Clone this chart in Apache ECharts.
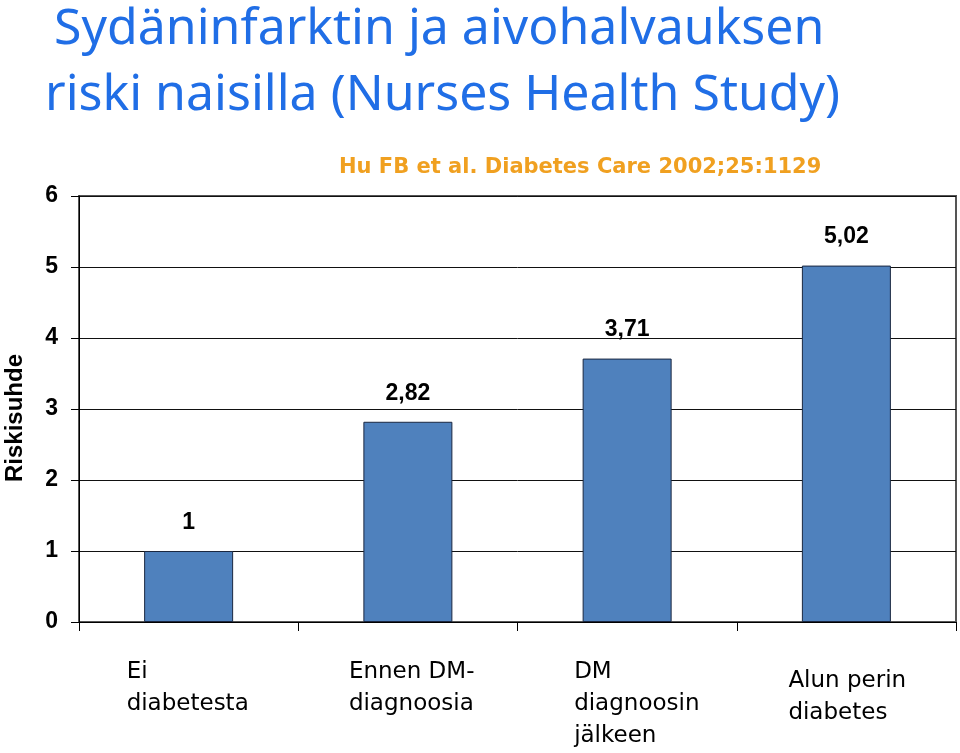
<!DOCTYPE html>
<html>
<head>
<meta charset="utf-8">
<script src="https://cdn.jsdelivr.net/npm/echarts@6/dist/echarts.min.js"></script>
<style>html,body{margin:0;padding:0;background:#fff}#c{width:960px;height:753px}</style>
</head>
<body>
<div id="c"></div>
<script>
const titleLine1 = 'Sydäninfarktin ja aivohalvauksen';
const titleLine2 = 'riski naisilla (Nurses Health Study)';
const sourceText = 'Hu FB et al. Diabetes Care 2002;25:1129';
const yAxisName = 'Riskisuhde';
const categories = ['Ei\ndiabetesta', 'Ennen DM-\ndiagnoosia', 'DM\ndiagnoosin\njälkeen', 'Alun perin\ndiabetes'];
const values = [1, 2.82, 3.71, 5.02];
const valueLabels = ['1', '2,82', '3,71', '5,02'];

const chart = echarts.init(document.getElementById('c'), null, {renderer: 'canvas'});
const catStyles = ['c0', 'c1', 'c2', 'c3'];
const richBase = {fontFamily: 'DejaVu Sans', fontSize: 23, color: '#000', lineHeight: 32, align: 'left'};
chart.setOption({
  animation: false,
  backgroundColor: '#fff',
  title: [
    {text: titleLine1, left: 49, top: 0, textStyle: {fontFamily: 'Noto Sans', fontSize: 50, fontWeight: 'normal', color: '#206ee6'}},
    {text: titleLine2, left: 40, top: 66, textStyle: {fontFamily: 'Noto Sans', fontSize: 50, fontWeight: 'normal', color: '#206ee6'}},
    {text: sourceText, left: 334, top: 152, textStyle: {fontFamily: 'DejaVu Sans', fontSize: 21, fontWeight: 'bold', color: '#f0a020'}}
  ],
  grid: {left: 79, right: 4, top: 196, bottom: 131, show: true, borderColor: '#555', borderWidth: 2, outerBoundsMode: 'none', containLabel: false},
  xAxis: {
    type: 'category',
    data: categories,
    axisLine: {lineStyle: {color: '#000', width: 1}},
    axisTick: {show: true, length: 9, lineStyle: {color: '#000'}},
    axisLabel: {
      margin: 34,
      interval: 0,
      formatter: function (v, i) {
        const key = catStyles[i];
        let lines = v.split('\n').map(function (l) { return '{' + key + '|' + l + '}'; });
        if (i === 3) lines.unshift('{s| }');
        return lines.join('\n');
      },
      rich: {
        c0: Object.assign({width: 124}, richBase),
        c1: Object.assign({width: 118}, richBase),
        c2: Object.assign({width: 106}, richBase),
        c3: Object.assign({width: 116}, richBase),
        s: {fontSize: 2, lineHeight: 9}
      }
    }
  },
  yAxis: {
    type: 'value',
    min: 0, max: 6, interval: 1,
    name: yAxisName,
    nameLocation: 'middle',
    nameGap: 52,
    nameTextStyle: {fontFamily: 'Liberation Sans', fontSize: 24, fontWeight: 'bold', color: '#000', padding: [0, 18, 0, 0]},
    axisLine: {show: true, lineStyle: {color: '#000', width: 1}},
    axisTick: {show: true, length: 8, lineStyle: {color: '#000'}},
    axisLabel: {margin: 21, fontFamily: 'Liberation Sans', fontSize: 23, fontWeight: 'bold', color: '#000'},
    splitLine: {show: true, lineStyle: {color: '#111', width: 1}}
  },
  series: [{
    type: 'bar',
    data: values,
    barWidth: 89,
    itemStyle: {color: '#4f81bd', borderColor: '#1a2740', borderWidth: 1},
    label: {
      show: true,
      position: 'top',
      distance: 17,
      formatter: function (p) { return valueLabels[p.dataIndex]; },
      fontFamily: 'Liberation Sans', fontSize: 23, fontWeight: 'bold', color: '#000'
    }
  }]
});
</script>
</body>
</html>
